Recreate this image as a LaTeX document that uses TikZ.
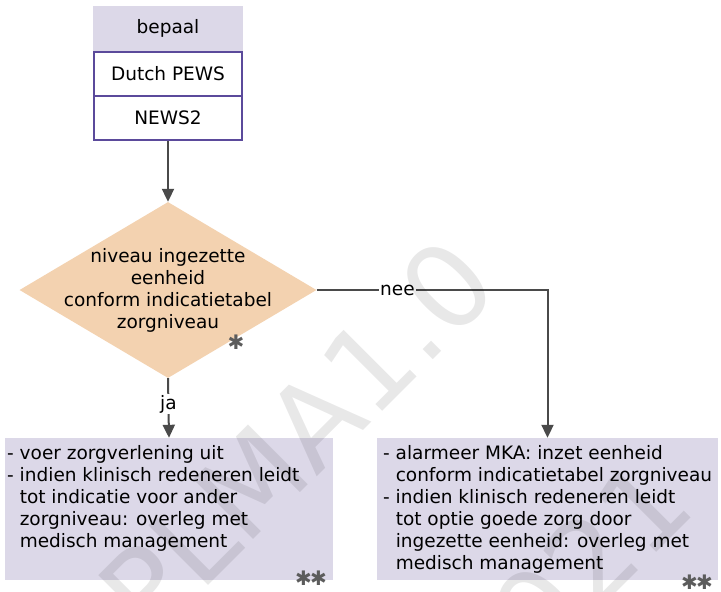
\documentclass[tikz,border=0pt]{standalone}
\usepackage{fontspec}
\setmainfont{DejaVu Sans}
\usetikzlibrary{arrows.meta,shapes.geometric}

\definecolor{lavbox}{HTML}{DCD8E8}
\definecolor{scorelijn}{HTML}{5B4A9B}
\definecolor{perzik}{HTML}{F3D2B0}
\definecolor{pijlgrijs}{HTML}{4A4A4A}

\tikzset{
  kop/.style={fill=lavbox, minimum width=150pt, minimum height=45pt, inner sep=0pt},
  score/.style={draw=scorelijn, line width=2.5pt, fill=white, minimum width=148pt, minimum height=44pt, inner sep=0pt},
  ruit/.style={shape=diamond, fill=perzik, minimum width=297pt, minimum height=176pt, inner sep=0pt},
  uitkomst/.style={fill=lavbox, inner sep=0pt},
  tekst/.style={anchor=north west, align=left, inner sep=0pt},
  pijl/.style={draw=pijlgrijs, line width=2pt, -{Triangle[length=13pt,width=12pt]}},
  lbl/.style={fill=white, inner sep=1pt},
  ster/.style={text=pijlgrijs!90!white, inner sep=0pt, font=\fontsize{20}{20}\selectfont},
  watermerk/.style={rotate=45, text=black, text opacity=0.09, inner sep=0pt, font=\fontsize{116}{116}\selectfont}
}

\begin{document}
\begin{tikzpicture}[x=1pt, y=-1pt, font=\fontsize{18.5}{22}\selectfont]
  \useasboundingbox (0,0) rectangle (721,592);

  \node[kop] (bepaal) at (168,28.5) {bepaal};
  \node[score] (pews) at (168,74) {Dutch PEWS};
  \node[score] (news) at (168,118) {NEWS2};

  \node[ruit] (vraag) at (168,290) {};
  \node[align=center, inner sep=0pt] (vraagtekst) at (vraag.center) {niveau ingezette\\eenheid\\conform indicatietabel\\zorgniveau};
  \node[ster] (ster1) at (236,342) {✱};

  \node[uitkomst, minimum width=328pt, minimum height=142pt] (links) at (169,509) {};
  \node[uitkomst, minimum width=341pt, minimum height=142pt] (rechts) at (547.5,509) {};

  \node[tekst] (linkstekst) at (7,445) {- voer zorgverlening uit\\- indien klinisch redeneren leidt\\\hphantom{- }tot indicatie voor ander\\\hphantom{- }zorgniveau: overleg met\\\hphantom{- }medisch management};
  \node[tekst] (rechtstekst) at (383,445) {- alarmeer MKA: inzet eenheid\\\hphantom{- }conform indicatietabel zorgniveau\\- indien klinisch redeneren leidt\\\hphantom{- }tot optie goede zorg door\\\hphantom{- }ingezette eenheid: overleg met\\\hphantom{- }medisch management};
  \node[ster] (ster2) at (311,578) {✱\kern-2pt✱};
  \node[ster] (ster3) at (697,582) {✱\kern-2pt✱};

  \draw[pijl] (news.south) -- (vraag.north);
  \draw[pijl] (vraag.south) -- node[lbl, pos=0.44] {ja} (links.north);
  \draw[pijl] (vraag.east) -- node[lbl, pos=0.35] {nee} (rechts.north |- vraag.east) -- (rechts.north);

  \node[watermerk] (wm1) at (297,437) {PLMA1.0};
  \node[watermerk] (wm2) at (565,585) {2021};
\end{tikzpicture}
\end{document}
